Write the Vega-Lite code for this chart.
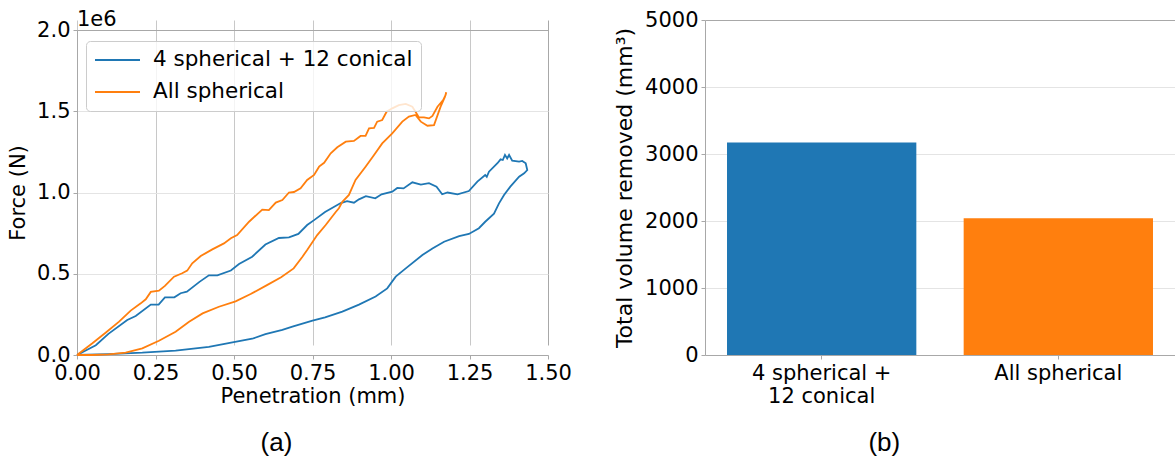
{
  "$schema": "https://vega.github.io/schema/vega-lite/v6.json",
  "background": "white",
  "padding": {"left": 7, "top": 9, "right": 0, "bottom": 0},
  "spacing": 41,
  "config": {
    "font": "DejaVu Sans",
    "view": {"stroke": null},
    "axis": {"labelFontSize": 21, "titleFontSize": 21, "titleFontWeight": "normal", "labelColor": "#000000", "titleColor": "#000000", "domainColor": "#a8a8a8", "tickColor": "#a8a8a8", "tickSize": 4, "labelPadding": 3, "labelFlush": false, "labelOverlap": false}
  },
  "resolve": {"scale": {"color": "independent"}, "legend": {"color": "independent"}},
  "hconcat": [
    {
      "width": 471,
      "height": 335,
      "title": {"text": "(a)", "orient": "bottom", "font": "Liberation Sans", "fontSize": 26, "fontWeight": "normal", "offset": 24, "anchor": "middle", "frame": "bounds", "dx": -13, "color": "#000000"},
      "layer": [
        {
          "data": {"values": [
            {"series": "4 spherical + 12 conical", "i": 0, "penetration": 0, "force": 0},
            {"series": "4 spherical + 12 conical", "i": 1, "penetration": 0.06, "force": 60000},
            {"series": "4 spherical + 12 conical", "i": 2, "penetration": 0.10, "force": 130000},
            {"series": "4 spherical + 12 conical", "i": 3, "penetration": 0.16, "force": 215000},
            {"series": "4 spherical + 12 conical", "i": 4, "penetration": 0.187, "force": 240000},
            {"series": "4 spherical + 12 conical", "i": 5, "penetration": 0.235, "force": 310000},
            {"series": "4 spherical + 12 conical", "i": 6, "penetration": 0.26, "force": 310000},
            {"series": "4 spherical + 12 conical", "i": 7, "penetration": 0.28, "force": 355000},
            {"series": "4 spherical + 12 conical", "i": 8, "penetration": 0.31, "force": 355000},
            {"series": "4 spherical + 12 conical", "i": 9, "penetration": 0.33, "force": 380000},
            {"series": "4 spherical + 12 conical", "i": 10, "penetration": 0.35, "force": 390000},
            {"series": "4 spherical + 12 conical", "i": 11, "penetration": 0.39, "force": 450000},
            {"series": "4 spherical + 12 conical", "i": 12, "penetration": 0.42, "force": 490000},
            {"series": "4 spherical + 12 conical", "i": 13, "penetration": 0.447, "force": 490000},
            {"series": "4 spherical + 12 conical", "i": 14, "penetration": 0.49, "force": 520000},
            {"series": "4 spherical + 12 conical", "i": 15, "penetration": 0.516, "force": 560000},
            {"series": "4 spherical + 12 conical", "i": 16, "penetration": 0.558, "force": 605000},
            {"series": "4 spherical + 12 conical", "i": 17, "penetration": 0.60, "force": 680000},
            {"series": "4 spherical + 12 conical", "i": 18, "penetration": 0.643, "force": 720000},
            {"series": "4 spherical + 12 conical", "i": 19, "penetration": 0.675, "force": 724000},
            {"series": "4 spherical + 12 conical", "i": 20, "penetration": 0.705, "force": 745000},
            {"series": "4 spherical + 12 conical", "i": 21, "penetration": 0.733, "force": 800000},
            {"series": "4 spherical + 12 conical", "i": 22, "penetration": 0.755, "force": 830000},
            {"series": "4 spherical + 12 conical", "i": 23, "penetration": 0.79, "force": 880000},
            {"series": "4 spherical + 12 conical", "i": 24, "penetration": 0.84, "force": 935000},
            {"series": "4 spherical + 12 conical", "i": 25, "penetration": 0.86, "force": 947000},
            {"series": "4 spherical + 12 conical", "i": 26, "penetration": 0.882, "force": 937000},
            {"series": "4 spherical + 12 conical", "i": 27, "penetration": 0.898, "force": 958000},
            {"series": "4 spherical + 12 conical", "i": 28, "penetration": 0.92, "force": 978000},
            {"series": "4 spherical + 12 conical", "i": 29, "penetration": 0.95, "force": 964000},
            {"series": "4 spherical + 12 conical", "i": 30, "penetration": 0.97, "force": 989000},
            {"series": "4 spherical + 12 conical", "i": 31, "penetration": 1.004, "force": 1005000},
            {"series": "4 spherical + 12 conical", "i": 32, "penetration": 1.02, "force": 1028000},
            {"series": "4 spherical + 12 conical", "i": 33, "penetration": 1.04, "force": 1025000},
            {"series": "4 spherical + 12 conical", "i": 34, "penetration": 1.068, "force": 1063000},
            {"series": "4 spherical + 12 conical", "i": 35, "penetration": 1.095, "force": 1048000},
            {"series": "4 spherical + 12 conical", "i": 36, "penetration": 1.121, "force": 1057000},
            {"series": "4 spherical + 12 conical", "i": 37, "penetration": 1.145, "force": 1036000},
            {"series": "4 spherical + 12 conical", "i": 38, "penetration": 1.163, "force": 989000},
            {"series": "4 spherical + 12 conical", "i": 39, "penetration": 1.18, "force": 1000000},
            {"series": "4 spherical + 12 conical", "i": 40, "penetration": 1.212, "force": 989000},
            {"series": "4 spherical + 12 conical", "i": 41, "penetration": 1.248, "force": 1009000},
            {"series": "4 spherical + 12 conical", "i": 42, "penetration": 1.275, "force": 1067000},
            {"series": "4 spherical + 12 conical", "i": 43, "penetration": 1.30, "force": 1108000},
            {"series": "4 spherical + 12 conical", "i": 44, "penetration": 1.305, "force": 1097000},
            {"series": "4 spherical + 12 conical", "i": 45, "penetration": 1.312, "force": 1128000},
            {"series": "4 spherical + 12 conical", "i": 46, "penetration": 1.339, "force": 1180000},
            {"series": "4 spherical + 12 conical", "i": 47, "penetration": 1.349, "force": 1204000},
            {"series": "4 spherical + 12 conical", "i": 48, "penetration": 1.356, "force": 1200000},
            {"series": "4 spherical + 12 conical", "i": 49, "penetration": 1.363, "force": 1231000},
            {"series": "4 spherical + 12 conical", "i": 50, "penetration": 1.37, "force": 1210000},
            {"series": "4 spherical + 12 conical", "i": 51, "penetration": 1.376, "force": 1231000},
            {"series": "4 spherical + 12 conical", "i": 52, "penetration": 1.386, "force": 1196000},
            {"series": "4 spherical + 12 conical", "i": 53, "penetration": 1.408, "force": 1190000},
            {"series": "4 spherical + 12 conical", "i": 54, "penetration": 1.418, "force": 1194000},
            {"series": "4 spherical + 12 conical", "i": 55, "penetration": 1.429, "force": 1180000},
            {"series": "4 spherical + 12 conical", "i": 56, "penetration": 1.434, "force": 1138000},
            {"series": "4 spherical + 12 conical", "i": 57, "penetration": 1.424, "force": 1118000},
            {"series": "4 spherical + 12 conical", "i": 58, "penetration": 1.408, "force": 1097000},
            {"series": "4 spherical + 12 conical", "i": 59, "penetration": 1.38, "force": 1036000},
            {"series": "4 spherical + 12 conical", "i": 60, "penetration": 1.36, "force": 985000},
            {"series": "4 spherical + 12 conical", "i": 61, "penetration": 1.344, "force": 933000},
            {"series": "4 spherical + 12 conical", "i": 62, "penetration": 1.328, "force": 870000},
            {"series": "4 spherical + 12 conical", "i": 63, "penetration": 1.30, "force": 820000},
            {"series": "4 spherical + 12 conical", "i": 64, "penetration": 1.28, "force": 780000},
            {"series": "4 spherical + 12 conical", "i": 65, "penetration": 1.248, "force": 745000},
            {"series": "4 spherical + 12 conical", "i": 66, "penetration": 1.217, "force": 732000},
            {"series": "4 spherical + 12 conical", "i": 67, "penetration": 1.169, "force": 697000},
            {"series": "4 spherical + 12 conical", "i": 68, "penetration": 1.132, "force": 656000},
            {"series": "4 spherical + 12 conical", "i": 69, "penetration": 1.10, "force": 615000},
            {"series": "4 spherical + 12 conical", "i": 70, "penetration": 1.047, "force": 533000},
            {"series": "4 spherical + 12 conical", "i": 71, "penetration": 1.015, "force": 482000},
            {"series": "4 spherical + 12 conical", "i": 72, "penetration": 0.988, "force": 410000},
            {"series": "4 spherical + 12 conical", "i": 73, "penetration": 0.951, "force": 360000},
            {"series": "4 spherical + 12 conical", "i": 74, "penetration": 0.898, "force": 310000},
            {"series": "4 spherical + 12 conical", "i": 75, "penetration": 0.845, "force": 267000},
            {"series": "4 spherical + 12 conical", "i": 76, "penetration": 0.79, "force": 232000},
            {"series": "4 spherical + 12 conical", "i": 77, "penetration": 0.75, "force": 212000},
            {"series": "4 spherical + 12 conical", "i": 78, "penetration": 0.686, "force": 174000},
            {"series": "4 spherical + 12 conical", "i": 79, "penetration": 0.654, "force": 154000},
            {"series": "4 spherical + 12 conical", "i": 80, "penetration": 0.60, "force": 128000},
            {"series": "4 spherical + 12 conical", "i": 81, "penetration": 0.558, "force": 100000},
            {"series": "4 spherical + 12 conical", "i": 82, "penetration": 0.495, "force": 78000},
            {"series": "4 spherical + 12 conical", "i": 83, "penetration": 0.42, "force": 50000},
            {"series": "4 spherical + 12 conical", "i": 84, "penetration": 0.314, "force": 27000},
            {"series": "4 spherical + 12 conical", "i": 85, "penetration": 0.208, "force": 14000},
            {"series": "4 spherical + 12 conical", "i": 86, "penetration": 0.10, "force": 6000},
            {"series": "4 spherical + 12 conical", "i": 87, "penetration": 0, "force": 0},
            {"series": "All spherical", "i": 0, "penetration": 0, "force": 0},
            {"series": "All spherical", "i": 1, "penetration": 0.049, "force": 72000},
            {"series": "All spherical", "i": 2, "penetration": 0.091, "force": 137000},
            {"series": "All spherical", "i": 3, "penetration": 0.134, "force": 205000},
            {"series": "All spherical", "i": 4, "penetration": 0.171, "force": 273000},
            {"series": "All spherical", "i": 5, "penetration": 0.203, "force": 318000},
            {"series": "All spherical", "i": 6, "penetration": 0.219, "force": 343000},
            {"series": "All spherical", "i": 7, "penetration": 0.235, "force": 388000},
            {"series": "All spherical", "i": 8, "penetration": 0.261, "force": 396000},
            {"series": "All spherical", "i": 9, "penetration": 0.28, "force": 425000},
            {"series": "All spherical", "i": 10, "penetration": 0.309, "force": 482000},
            {"series": "All spherical", "i": 11, "penetration": 0.335, "force": 503000},
            {"series": "All spherical", "i": 12, "penetration": 0.351, "force": 519000},
            {"series": "All spherical", "i": 13, "penetration": 0.367, "force": 564000},
            {"series": "All spherical", "i": 14, "penetration": 0.394, "force": 609000},
            {"series": "All spherical", "i": 15, "penetration": 0.431, "force": 650000},
            {"series": "All spherical", "i": 16, "penetration": 0.468, "force": 687000},
            {"series": "All spherical", "i": 17, "penetration": 0.49, "force": 718000},
            {"series": "All spherical", "i": 18, "penetration": 0.51, "force": 738000},
            {"series": "All spherical", "i": 19, "penetration": 0.548, "force": 820000},
            {"series": "All spherical", "i": 20, "penetration": 0.59, "force": 895000},
            {"series": "All spherical", "i": 21, "penetration": 0.611, "force": 892000},
            {"series": "All spherical", "i": 22, "penetration": 0.633, "force": 938000},
            {"series": "All spherical", "i": 23, "penetration": 0.654, "force": 954000},
            {"series": "All spherical", "i": 24, "penetration": 0.675, "force": 1000000},
            {"series": "All spherical", "i": 25, "penetration": 0.691, "force": 1003000},
            {"series": "All spherical", "i": 26, "penetration": 0.712, "force": 1026000},
            {"series": "All spherical", "i": 27, "penetration": 0.733, "force": 1077000},
            {"series": "All spherical", "i": 28, "penetration": 0.755, "force": 1108000},
            {"series": "All spherical", "i": 29, "penetration": 0.771, "force": 1159000},
            {"series": "All spherical", "i": 30, "penetration": 0.787, "force": 1183000},
            {"series": "All spherical", "i": 31, "penetration": 0.808, "force": 1241000},
            {"series": "All spherical", "i": 32, "penetration": 0.829, "force": 1278000},
            {"series": "All spherical", "i": 33, "penetration": 0.856, "force": 1313000},
            {"series": "All spherical", "i": 34, "penetration": 0.882, "force": 1317000},
            {"series": "All spherical", "i": 35, "penetration": 0.903, "force": 1348000},
            {"series": "All spherical", "i": 36, "penetration": 0.919, "force": 1348000},
            {"series": "All spherical", "i": 37, "penetration": 0.93, "force": 1395000},
            {"series": "All spherical", "i": 38, "penetration": 0.946, "force": 1397000},
            {"series": "All spherical", "i": 39, "penetration": 0.956, "force": 1436000},
            {"series": "All spherical", "i": 40, "penetration": 0.972, "force": 1446000},
            {"series": "All spherical", "i": 41, "penetration": 0.986, "force": 1497000},
            {"series": "All spherical", "i": 42, "penetration": 1.004, "force": 1518000},
            {"series": "All spherical", "i": 43, "penetration": 1.025, "force": 1538000},
            {"series": "All spherical", "i": 44, "penetration": 1.047, "force": 1545000},
            {"series": "All spherical", "i": 45, "penetration": 1.068, "force": 1528000},
            {"series": "All spherical", "i": 46, "penetration": 1.078, "force": 1497000},
            {"series": "All spherical", "i": 47, "penetration": 1.089, "force": 1462000},
            {"series": "All spherical", "i": 48, "penetration": 1.105, "force": 1462000},
            {"series": "All spherical", "i": 49, "penetration": 1.121, "force": 1456000},
            {"series": "All spherical", "i": 50, "penetration": 1.132, "force": 1471000},
            {"series": "All spherical", "i": 51, "penetration": 1.148, "force": 1528000},
            {"series": "All spherical", "i": 52, "penetration": 1.166, "force": 1569000},
            {"series": "All spherical", "i": 53, "penetration": 1.174, "force": 1600000},
            {"series": "All spherical", "i": 54, "penetration": 1.176, "force": 1617000},
            {"series": "All spherical", "i": 55, "penetration": 1.172, "force": 1590000},
            {"series": "All spherical", "i": 56, "penetration": 1.158, "force": 1528000},
            {"series": "All spherical", "i": 57, "penetration": 1.137, "force": 1415000},
            {"series": "All spherical", "i": 58, "penetration": 1.116, "force": 1411000},
            {"series": "All spherical", "i": 59, "penetration": 1.095, "force": 1436000},
            {"series": "All spherical", "i": 60, "penetration": 1.078, "force": 1477000},
            {"series": "All spherical", "i": 61, "penetration": 1.057, "force": 1467000},
            {"series": "All spherical", "i": 62, "penetration": 1.036, "force": 1436000},
            {"series": "All spherical", "i": 63, "penetration": 1.004, "force": 1364000},
            {"series": "All spherical", "i": 64, "penetration": 0.972, "force": 1302000},
            {"series": "All spherical", "i": 65, "penetration": 0.946, "force": 1231000},
            {"series": "All spherical", "i": 66, "penetration": 0.919, "force": 1159000},
            {"series": "All spherical", "i": 67, "penetration": 0.887, "force": 1077000},
            {"series": "All spherical", "i": 68, "penetration": 0.866, "force": 985000},
            {"series": "All spherical", "i": 69, "penetration": 0.845, "force": 943000},
            {"series": "All spherical", "i": 70, "penetration": 0.834, "force": 903000},
            {"series": "All spherical", "i": 71, "penetration": 0.824, "force": 880000},
            {"series": "All spherical", "i": 72, "penetration": 0.792, "force": 800000},
            {"series": "All spherical", "i": 73, "penetration": 0.765, "force": 738000},
            {"series": "All spherical", "i": 74, "penetration": 0.733, "force": 646000},
            {"series": "All spherical", "i": 75, "penetration": 0.718, "force": 605000},
            {"series": "All spherical", "i": 76, "penetration": 0.69, "force": 533000},
            {"series": "All spherical", "i": 77, "penetration": 0.65, "force": 478000},
            {"series": "All spherical", "i": 78, "penetration": 0.605, "force": 430000},
            {"series": "All spherical", "i": 79, "penetration": 0.553, "force": 375000},
            {"series": "All spherical", "i": 80, "penetration": 0.505, "force": 330000},
            {"series": "All spherical", "i": 81, "penetration": 0.452, "force": 297000},
            {"series": "All spherical", "i": 82, "penetration": 0.40, "force": 256000},
            {"series": "All spherical", "i": 83, "penetration": 0.357, "force": 205000},
            {"series": "All spherical", "i": 84, "penetration": 0.314, "force": 143000},
            {"series": "All spherical", "i": 85, "penetration": 0.261, "force": 88000},
            {"series": "All spherical", "i": 86, "penetration": 0.208, "force": 41000},
            {"series": "All spherical", "i": 87, "penetration": 0.155, "force": 14000},
            {"series": "All spherical", "i": 88, "penetration": 0.10, "force": 4000},
            {"series": "All spherical", "i": 89, "penetration": 0.049, "force": 0},
            {"series": "All spherical", "i": 90, "penetration": 0, "force": 0}
          ]},
          "mark": {"type": "line", "strokeWidth": 1.8},
          "encoding": {
            "x": {"field": "penetration", "type": "quantitative", "scale": {"domain": [0, 1.5], "nice": false, "zero": false},
                  "axis": {"title": "Penetration (mm)", "values": [0, 0.25, 0.5, 0.75, 1.0, 1.25, 1.5], "format": ".2f", "grid": true, "titlePadding": 2,
                           "gridColor": {"condition": {"test": "datum.value == 1.5", "value": "#a8a8a8"}, "value": "#c8c8c8"}}},
            "y": {"field": "force", "type": "quantitative", "scale": {"domain": [0, 2000000], "nice": false, "range": [335, 10]},
                  "axis": {"title": "Force (N)", "values": [0, 500000, 1000000, 1500000, 2000000], "labelExpr": "format(datum.value / 1000000, '.1f')", "grid": true, "titlePadding": 8,
                           "gridColor": {"condition": {"test": "datum.value == 2000000", "value": "#a8a8a8"}, "value": "#e4e4e4"}}},
            "color": {"field": "series", "type": "nominal",
                      "scale": {"domain": ["4 spherical + 12 conical", "All spherical"], "range": ["#1f77b4", "#ff7f0e"]},
                      "legend": {"title": null, "orient": "none", "legendX": 9, "legendY": 21, "fillColor": "rgba(255,255,255,0.8)", "strokeColor": "#cccccc", "cornerRadius": 4, "padding": 8, "labelFontSize": 21.5, "labelFont": "DejaVu Sans", "labelColor": "#000000", "labelLimit": 500, "symbolType": "M-1,0H3.5", "symbolSize": 400, "symbolStrokeWidth": 2, "labelOffset": 37, "rowPadding": 10}},
            "order": {"field": "i", "type": "quantitative"}
          }
        },
        {
          "data": {"values": [{"t": "1e6"}]},
          "mark": {"type": "text", "align": "left", "baseline": "bottom", "fontSize": 21, "color": "#000000", "dy": 0},
          "encoding": {
            "x": {"datum": 0},
            "y": {"datum": 2000000},
            "text": {"field": "t", "type": "nominal"}
          }
        }
      ]
    },
    {
      "width": 470,
      "height": 335,
      "title": {"text": "(b)", "orient": "bottom", "font": "Liberation Sans", "fontSize": 26, "fontWeight": "normal", "offset": 24, "anchor": "middle", "frame": "bounds", "dx": -10, "color": "#000000"},
      "data": {"values": [
        {"config": "4 spherical + 12 conical", "volume": 3170},
        {"config": "All spherical", "volume": 2040}
      ]},
      "mark": {"type": "bar"},
      "encoding": {
        "x": {"field": "config", "type": "nominal", "sort": null, "scale": {"paddingInner": 0.2, "paddingOuter": 0.093},
              "axis": {"title": null, "labelAngle": 0, "labelLineHeight": 23, "labelExpr": "datum.label == '4 spherical + 12 conical' ? ['4 spherical +', '12 conical'] : datum.label"}},
        "y": {"field": "volume", "type": "quantitative", "scale": {"domain": [0, 5000], "nice": false},
              "axis": {"title": "Total volume removed (mm³)", "titleFontSize": 22, "format": "d", "values": [0, 1000, 2000, 3000, 4000, 5000], "grid": true, "titlePadding": 8,
                       "gridColor": {"condition": {"test": "datum.value == 5000", "value": "#a8a8a8"}, "value": "#e4e4e4"}}},
        "color": {"field": "config", "type": "nominal",
                  "scale": {"domain": ["4 spherical + 12 conical", "All spherical"], "range": ["#1f77b4", "#ff7f0e"]},
                  "legend": null}
      }
    }
  ]
}
